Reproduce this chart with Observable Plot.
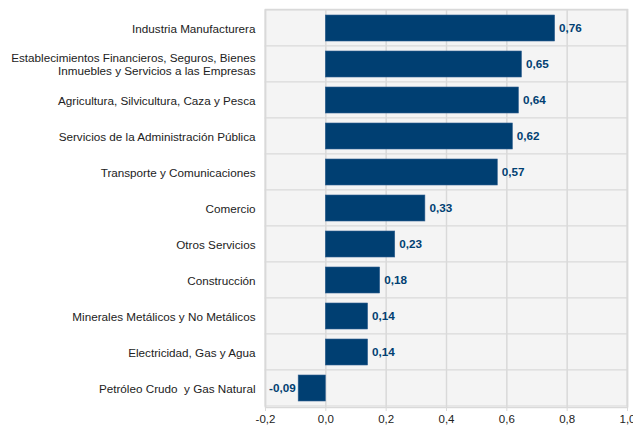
<!DOCTYPE html>
<html>
<head>
<meta charset="utf-8">
<script src="https://cdn.jsdelivr.net/npm/d3@7"></script>
<script src="https://cdn.jsdelivr.net/npm/@observablehq/plot@0.6"></script>
<style>
  html, body { margin: 0; padding: 0; background: #ffffff; }
  #chart svg { display: block; }
</style>
</head>
<body>
<div id="chart"></div>
<script>
const categories = [
  "Industria Manufacturera",
  "Establecimientos Financieros, Seguros, Bienes\nInmuebles y Servicios a las Empresas",
  "Agricultura, Silvicultura, Caza y Pesca",
  "Servicios de la Administración Pública",
  "Transporte y Comunicaciones",
  "Comercio",
  "Otros Servicios",
  "Construcción",
  "Minerales Metálicos y No Metálicos",
  "Electricidad, Gas y Agua",
  "Petróleo Crudo  y Gas Natural"
];
const values = [0.76, 0.65, 0.64, 0.62, 0.57, 0.33, 0.23, 0.18, 0.14, 0.14, -0.09];
const xTicks = [-0.2, 0, 0.2, 0.4, 0.6, 0.8, 1.0];

const data = categories.map((c, i) => ({category: c, value: values[i]}));
const locale = d3.formatLocale({decimal: ",", thousands: ".", grouping: [3], currency: ["", ""], minus: "-"});
const f1 = locale.format(".1f");
const f2 = locale.format(".2f");

const barColor = "#003f72";
const gridColor = "#d9d9d9";

const chart = Plot.plot({
  width: 633,
  height: 429,
  marginLeft: 265,
  marginRight: 6,
  marginTop: 9,
  marginBottom: 22,
  style: {fontFamily: "'Liberation Sans', Arial, sans-serif", fontSize: "11.7px", color: "#222", background: "#ffffff"},
  x: {domain: [-0.2, 1.0], ticks: xTicks, tickFormat: f1, label: null},
  y: {domain: categories, padding: 0, label: null},
  marks: [
    Plot.cell(data, {y: "category", fill: "#f4f4f4", stroke: gridColor, strokeWidth: 1}),
    Plot.ruleX(xTicks, {stroke: gridColor, strokeWidth: 1.5}),
    Plot.frame({stroke: gridColor, strokeWidth: 1.5}),
    Plot.barX(data, {x: "value", y: "category", fill: barColor, stroke: "#2f5f8f", strokeWidth: 0.6, insetTop: 5, insetBottom: 5}),
    Plot.text(data.filter(d => d.value >= 0), {x: "value", y: "category", text: d => f2(d.value), textAnchor: "start", dx: 4, fill: barColor, fontWeight: "bold", fontSize: 11.7}),
    Plot.text(data.filter(d => d.value < 0), {x: "value", y: "category", text: d => f2(d.value), textAnchor: "end", dx: -3, fill: barColor, fontWeight: "bold", fontSize: 11.7}),
    Plot.axisX({ticks: xTicks, tickFormat: f1, tickSize: 4, tickPadding: 3, stroke: gridColor, fill: "#222", fontSize: 11.5, label: null}),
    Plot.axisY({tickSize: 0, tickPadding: 10, fill: "#222", fontSize: 11.7, lineHeight: 1.12, label: null})
  ]
});
document.getElementById("chart").appendChild(chart);
</script>
</body>
</html>
